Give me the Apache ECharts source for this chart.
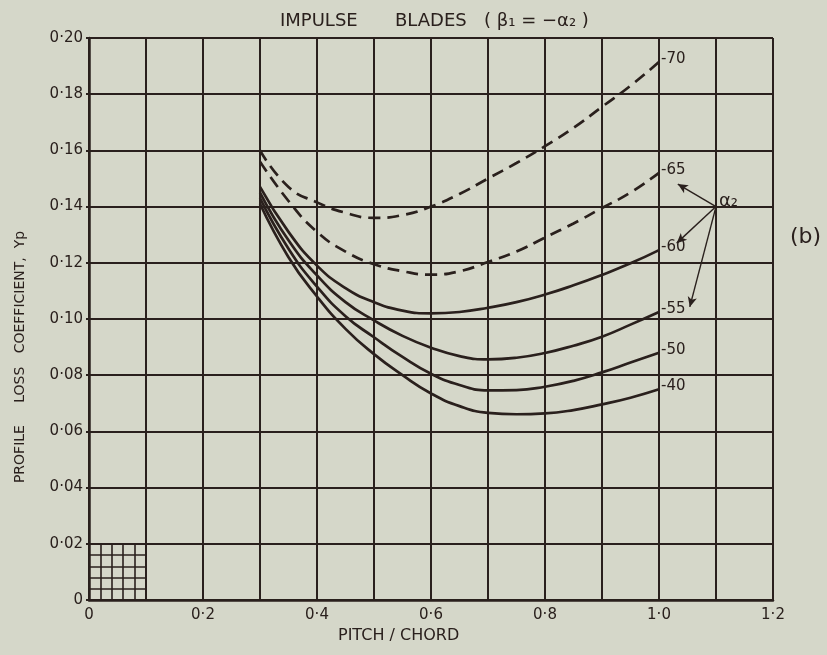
<!DOCTYPE html>
<html>
<head>
<meta charset="utf-8">
<script src="https://cdn.jsdelivr.net/npm/echarts@6/dist/echarts.min.js"></script>
<style>
  html, body { margin: 0; padding: 0; background: #d5d7c9; }
  #chart { width: 827px; height: 655px; }
</style>
</head>
<body>
<div id="chart"></div>
<script>
const pitch = [0.3, 0.35, 0.4, 0.45, 0.5, 0.55, 0.6, 0.65, 0.7, 0.75, 0.8, 0.85, 0.9, 0.95, 1.0];

// profile loss coefficient Yp for each outlet angle alpha2
const yp70 = [0.160, 0.147, 0.1415, 0.1378, 0.136, 0.137, 0.140, 0.1445, 0.150, 0.1555, 0.1615, 0.168, 0.1755, 0.183, 0.1915];
const yp65 = [0.156, 0.142, 0.131, 0.124, 0.1195, 0.117, 0.1158, 0.117, 0.1203, 0.124, 0.129, 0.134, 0.1395, 0.145, 0.152];
const yp60 = [0.147, 0.131, 0.119, 0.111, 0.106, 0.103, 0.102, 0.1025, 0.104, 0.106, 0.1087, 0.112, 0.1157, 0.1198, 0.1245];
const yp55 = [0.145, 0.128, 0.1155, 0.106, 0.0995, 0.094, 0.0898, 0.0868, 0.0856, 0.0862, 0.0879, 0.0905, 0.0937, 0.098, 0.1025];
const yp50 = [0.143, 0.125, 0.1115, 0.101, 0.0935, 0.0865, 0.0805, 0.0765, 0.0746, 0.0747, 0.0759, 0.078, 0.081, 0.0845, 0.088];
const yp40 = [0.141, 0.122, 0.108, 0.0965, 0.0875, 0.080, 0.0735, 0.069, 0.0666, 0.0661, 0.0664, 0.0676, 0.0696, 0.072, 0.075];

const curveNames = ['-70', '-65', '-60', '-55', '-50', '-40'];
const curveData = [yp70, yp65, yp60, yp55, yp50, yp40];
const dashedCurves = ['-70', '-65'];

// alpha2 pointer: origin and arrow tips
const arrowFrom = [1.1, 0.14];
const arrowTips = [[1.033, 0.148], [1.031, 0.127], [1.054, 0.1043]];

// fine grid in the corner (0..0.1 x 0..0.02)
const fineX = [0.02, 0.04, 0.06, 0.08];
const fineY = [0.004, 0.008, 0.012, 0.016];

const ink = '#2a201d';
const font = 'DejaVu Sans';

let chart = echarts.init(document.getElementById('chart'));

function fmtX(v) {
    if (Math.round(v * 10) % 2 !== 0) return '';
    return v === 0 ? '0' : v.toFixed(1).replace('.', '·');
}
function fmtY(v) {
    return v === 0 ? '0' : v.toFixed(2).replace('.', '·');
}

//曲线
let series = curveNames.map((name, i) => ({
    type: 'line',
    name,
    data: pitch.map((p, j) => [p, curveData[i][j]]),
    smooth: 0.5,
    symbol: 'none',
    lineStyle: {
        color: ink,
        width: 2.7,
        type: dashedCurves.includes(name) ? [12, 7] : 'solid'
    },
    endLabel: {
        show: true,
        formatter: name,
        color: ink,
        fontFamily: font,
        fontSize: 15,
        distance: 2,
        offset: [0, -3]
    },
    z: 5
}));

//辅助线：小网格和箭头
let fineLines = [];
fineX.forEach(x => fineLines.push([{ coord: [x, 0] }, { coord: [x, 0.02] }]));
fineY.forEach(y => fineLines.push([{ coord: [0, y] }, { coord: [0.1, y] }]));
fineLines.push([{ coord: [0.1, 0] }, { coord: [0.1, 0.02] }]);

series.push({
    type: 'line',
    data: [],
    markLine: {
        silent: true,
        symbol: ['none', 'none'],
        label: { show: false },
        lineStyle: { color: ink, width: 1.6, type: 'solid' },
        data: fineLines
    }
});

series.push({
    type: 'line',
    data: [],
    markLine: {
        silent: true,
        symbol: ['none', 'arrow'],
        symbolSize: [7, 10],
        label: { show: false },
        lineStyle: { color: ink, width: 1.4, type: 'solid' },
        data: arrowTips.map(t => [{ coord: arrowFrom }, { coord: t }])
    }
});

const titleFont = '18px "DejaVu Sans"';

let option = {
    backgroundColor: '#d5d7c9',
    animation: false,
    grid: { left: 89, right: 54, top: 38, bottom: 55 },
    xAxis: {
        type: 'value',
        min: 0,
        max: 1.2,
        interval: 0.1,
        axisLine: { show: true, lineStyle: { color: ink, width: 2.5 } },
        axisTick: { show: false },
        axisLabel: {
            formatter: fmtX,
            color: ink,
            fontFamily: font,
            fontSize: 15,
            margin: 8
        },
        splitLine: { show: true, lineStyle: { color: ink, width: 2 } }
    },
    yAxis: {
        type: 'value',
        min: 0,
        max: 0.2,
        interval: 0.02,
        axisLine: { show: true, lineStyle: { color: ink, width: 2.5 } },
        axisTick: { show: true, length: 3, lineStyle: { color: ink, width: 2 } },
        axisLabel: {
            formatter: fmtY,
            color: ink,
            fontFamily: font,
            fontSize: 15,
            margin: 6
        },
        splitLine: { show: true, lineStyle: { color: ink, width: 2 } }
    },
    graphic: [
        { type: 'text', left: 280, top: 12, style: { text: 'IMPULSE', fill: ink, font: titleFont } },
        { type: 'text', left: 395, top: 12, style: { text: 'BLADES', fill: ink, font: titleFont } },
        { type: 'text', left: 484, top: 12, style: { text: '( β₁ = −α₂ )', fill: ink, font: titleFont } },
        {
            type: 'text', left: 338, top: 628,
            style: { text: 'PITCH / CHORD', fill: ink, font: '16px "DejaVu Sans"' }
        },
        {
            type: 'text', x: 20, y: 357, rotation: Math.PI / 2,
            style: {
                text: 'PROFILE     LOSS   COEFFICIENT,  Yp',
                fill: ink, font: '14px "DejaVu Sans"',
                align: 'center', verticalAlign: 'middle'
            },
            originX: 0, originY: 0
        },
        {
            type: 'text', left: 719, top: 192,
            style: { text: 'α₂', fill: ink, font: '18px "DejaVu Sans"' }
        },
        {
            type: 'text', left: 790, top: 226,
            style: { text: '(b)', fill: ink, font: '22px "DejaVu Sans"' }
        }
    ],
    series
};
chart.setOption(option);
</script>
</body>
</html>
